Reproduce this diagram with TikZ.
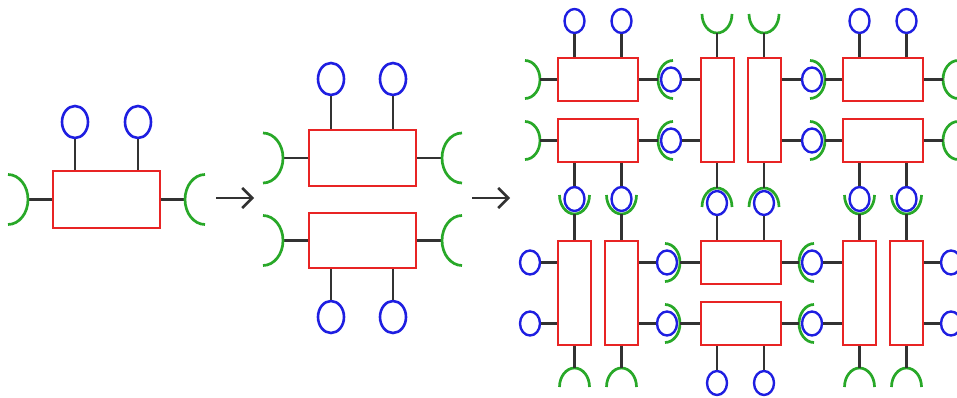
\documentclass[tikz,border=0pt]{standalone}
\usetikzlibrary{shapes.geometric,arrows.meta}
\definecolor{myred}{RGB}{232,36,36}
\definecolor{myblue}{RGB}{30,30,225}
\definecolor{mygreen}{RGB}{40,168,40}
\definecolor{mystem}{RGB}{50,50,50}
\tikzset{
  rbox/.style={draw=myred, line width=2pt, rectangle, inner sep=0pt},
  hr/.style={minimum width=80pt, minimum height=43pt},
  vr/.style={minimum width=33pt, minimum height=104pt},
  bball/.style={draw=myblue, line width=2.6pt, ellipse, inner sep=0pt, minimum width=26pt, minimum height=32pt},
  sball/.style={draw=myblue, line width=2.4pt, ellipse, inner sep=0pt, minimum width=20pt, minimum height=24pt},
  stem/.style={draw=mystem, line width=2.2pt},
  garc/.style={draw=mygreen, line width=2.7pt},
  flow/.style={draw=mystem, line width=2.5pt, -{Straight Barb[length=10pt,width=20pt]}},
}
% green sockets: vertex, x radius, y radius
\newcommand\gOpenL[3]{\draw[garc] (#1) ++(-#2,-#3) arc[start angle=-90,end angle=90,x radius=#2,y radius=#3];}
\newcommand\gOpenR[3]{\draw[garc] (#1) ++(#2,#3) arc[start angle=90,end angle=270,x radius=#2,y radius=#3];}
\newcommand\gOpenU[3]{\draw[garc] (#1) ++(#2,-#3) arc[start angle=0,end angle=180,x radius=#2,y radius=#3];}
\newcommand\gOpenD[3]{\draw[garc] (#1) ++(-#2,#3) arc[start angle=180,end angle=360,x radius=#2,y radius=#3];}
\begin{document}
\begin{tikzpicture}[x=1pt,y=-1pt]
\clip (0,0) rectangle (957,398);
\fill[white] (0,0) rectangle (957,398);

% ---------------- single motif ----------------
\node[rbox, minimum width=107pt, minimum height=57pt] (L) at (106.5,199.5) {};
\node[bball] (L1) at (75,122) {};
\node[bball] (L2) at (138,122) {};
\draw[stem] (L1.south) -- (L1.south |- L.north);
\draw[stem] (L2.south) -- (L2.south |- L.north);
\coordinate (Lvl) at (28,199.5);
\coordinate (Lvr) at (185,199.5);
\draw[stem] (L.west) -- (Lvl);
\draw[stem] (L.east) -- (Lvr);
\gOpenL{Lvl}{20}{25}
\gOpenR{Lvr}{20}{25}

% arrows
\coordinate (a1s) at (216,198);
\coordinate (a1e) at (254,198);
\draw[flow] (a1s) -- (a1e);
\coordinate (a2s) at (472,198);
\coordinate (a2e) at (510,198);
\draw[flow] (a2s) -- (a2e);

% ---------------- pair ----------------
\node[rbox, minimum width=107pt, minimum height=56pt] (M1) at (362.5,158) {};
\node[rbox, minimum width=107pt, minimum height=55pt] (M2) at (362.5,240.5) {};
\node[bball] (M1a) at (331,79) {};
\node[bball] (M1b) at (393,79) {};
\node[bball] (M2a) at (331,317) {};
\node[bball] (M2b) at (393,317) {};
\draw[stem] (M1a.south) -- (M1a.south |- M1.north);
\draw[stem] (M1b.south) -- (M1b.south |- M1.north);
\draw[stem] (M2a.north) -- (M2a.north |- M2.south);
\draw[stem] (M2b.north) -- (M2b.north |- M2.south);
\coordinate (M1l) at (283,158);
\coordinate (M1r) at (442,158);
\coordinate (M2l) at (283,240.5);
\coordinate (M2r) at (442,240.5);
\draw[stem] (M1.west) -- (M1l);
\draw[stem] (M1.east) -- (M1r);
\draw[stem] (M2.west) -- (M2l);
\draw[stem] (M2.east) -- (M2r);
\gOpenL{M1l}{20}{25}
\gOpenR{M1r}{20}{25}
\gOpenL{M2l}{20}{25}
\gOpenR{M2r}{20}{25}

% ---------------- grid ----------------
\node[rbox,hr] (A1) at (598,79.5) {};
\node[rbox,hr] (A2) at (598,140.5) {};
\node[rbox,vr] (B1) at (717,110) {};
\node[rbox,vr] (B2) at (764,110) {};
\node[rbox,hr] (C1) at (883,79.5) {};
\node[rbox,hr] (C2) at (883,140.5) {};
\node[rbox,vr] (D1) at (574.5,293) {};
\node[rbox,vr] (D2) at (621.5,293) {};
\node[rbox,hr] (E1) at (740.5,262.5) {};
\node[rbox,hr] (E2) at (740.5,323.5) {};
\node[rbox,vr] (F1) at (859.5,293) {};
\node[rbox,vr] (F2) at (906.5,293) {};

% socket vertices
\coordinate (A1l) at (540,79.5);  \coordinate (A2l) at (540,140.5);
\coordinate (A1r) at (658,79.5);  \coordinate (A2r) at (658,140.5);
\coordinate (B1t) at (717,33);    \coordinate (B2t) at (764,33);
\coordinate (B1b) at (717,188);   \coordinate (B2b) at (764,188);
\coordinate (C1l) at (825,79.5);  \coordinate (C2l) at (825,140.5);
\coordinate (C1r) at (943,79.5);  \coordinate (C2r) at (943,140.5);
\coordinate (D1t) at (574.5,214); \coordinate (D2t) at (621.5,214);
\coordinate (D1b) at (574.5,368); \coordinate (D2b) at (621.5,368);
\coordinate (E1l) at (680,262.5); \coordinate (E2l) at (680,323.5);
\coordinate (E1r) at (799,262.5); \coordinate (E2r) at (799,323.5);
\coordinate (F1t) at (859.5,214); \coordinate (F2t) at (906.5,214);
\coordinate (F1b) at (859.5,368); \coordinate (F2b) at (906.5,368);

\gOpenL{A1l}{15}{19} \gOpenL{A2l}{15}{19}
\gOpenR{A1r}{15}{19} \gOpenR{A2r}{15}{19}
\gOpenU{B1t}{15}{19} \gOpenU{B2t}{15}{19}
\gOpenD{B1b}{15}{19} \gOpenD{B2b}{15}{19}
\gOpenL{C1l}{15}{19} \gOpenL{C2l}{15}{19}
\gOpenR{C1r}{15}{19} \gOpenR{C2r}{15}{19}
\gOpenU{D1t}{15}{19} \gOpenU{D2t}{15}{19}
\gOpenD{D1b}{15}{19} \gOpenD{D2b}{15}{19}
\gOpenL{E1l}{15}{19} \gOpenL{E2l}{15}{19}
\gOpenR{E1r}{15}{19} \gOpenR{E2r}{15}{19}
\gOpenU{F1t}{15}{19} \gOpenU{F2t}{15}{19}
\gOpenD{F1b}{15}{19} \gOpenD{F2b}{15}{19}

\draw[stem] (A1.west) -- (A1l);  \draw[stem] (A2.west) -- (A2l);
\draw[stem] (A1.east) -- (A1r);  \draw[stem] (A2.east) -- (A2r);
\draw[stem] (B1t) -- (B1t |- B1.north); \draw[stem] (B2t) -- (B2t |- B2.north);
\draw[stem] (B1b) -- (B1b |- B1.south); \draw[stem] (B2b) -- (B2b |- B2.south);
\draw[stem] (C1.west) -- (C1l);  \draw[stem] (C2.west) -- (C2l);
\draw[stem] (C1.east) -- (C1r);  \draw[stem] (C2.east) -- (C2r);
\draw[stem] (D1t) -- (D1t |- D1.north); \draw[stem] (D2t) -- (D2t |- D2.north);
\draw[stem] (D1b) -- (D1b |- D1.south); \draw[stem] (D2b) -- (D2b |- D2.south);
\draw[stem] (E1.west) -- (E1l);  \draw[stem] (E2.west) -- (E2l);
\draw[stem] (E1.east) -- (E1r);  \draw[stem] (E2.east) -- (E2r);
\draw[stem] (F1t) -- (F1t |- F1.north); \draw[stem] (F2t) -- (F2t |- F2.north);
\draw[stem] (F1b) -- (F1b |- F1.south); \draw[stem] (F2b) -- (F2b |- F2.south);

% balls
\node[sball] (A1a) at (574.5,21) {};  \node[sball] (A1b) at (621.5,21) {};
\node[sball] (A2a) at (574.5,199) {}; \node[sball] (A2b) at (621.5,199) {};
\node[sball] (B1a) at (671,79.5) {};  \node[sball] (B1c) at (671,140.5) {};
\node[sball] (B2a) at (812,79.5) {};  \node[sball] (B2c) at (812,140.5) {};
\node[sball] (C1a) at (859.5,21) {};  \node[sball] (C1b) at (906.5,21) {};
\node[sball] (C2a) at (859.5,199) {}; \node[sball] (C2b) at (906.5,199) {};
\node[sball] (D1a) at (530,262.5) {}; \node[sball] (D1c) at (530,323.5) {};
\node[sball] (D2a) at (667,262.5) {}; \node[sball] (D2c) at (667,323.5) {};
\node[sball] (E1a) at (717,203) {};   \node[sball] (E1b) at (764,203) {};
\node[sball] (E2a) at (717,383) {};   \node[sball] (E2b) at (764,383) {};
\node[sball] (F1a) at (812,262.5) {}; \node[sball] (F1c) at (812,323.5) {};
\node[sball] (F2a) at (951,262.5) {}; \node[sball] (F2c) at (951,323.5) {};

\draw[stem] (A1a.south) -- (A1a.south |- A1.north); \draw[stem] (A1b.south) -- (A1b.south |- A1.north);
\draw[stem] (A2a.north) -- (A2a.north |- A2.south); \draw[stem] (A2b.north) -- (A2b.north |- A2.south);
\draw[stem] (B1a.east) -- (B1a.east -| B1.west);    \draw[stem] (B1c.east) -- (B1c.east -| B1.west);
\draw[stem] (B2a.west) -- (B2a.west -| B2.east);    \draw[stem] (B2c.west) -- (B2c.west -| B2.east);
\draw[stem] (C1a.south) -- (C1a.south |- C1.north); \draw[stem] (C1b.south) -- (C1b.south |- C1.north);
\draw[stem] (C2a.north) -- (C2a.north |- C2.south); \draw[stem] (C2b.north) -- (C2b.north |- C2.south);
\draw[stem] (D1a.east) -- (D1a.east -| D1.west);    \draw[stem] (D1c.east) -- (D1c.east -| D1.west);
\draw[stem] (D2a.west) -- (D2a.west -| D2.east);    \draw[stem] (D2c.west) -- (D2c.west -| D2.east);
\draw[stem] (E1a.south) -- (E1a.south |- E1.north); \draw[stem] (E1b.south) -- (E1b.south |- E1.north);
\draw[stem] (E2a.north) -- (E2a.north |- E2.south); \draw[stem] (E2b.north) -- (E2b.north |- E2.south);
\draw[stem] (F1a.east) -- (F1a.east -| F1.west);    \draw[stem] (F1c.east) -- (F1c.east -| F1.west);
\draw[stem] (F2a.west) -- (F2a.west -| F2.east);    \draw[stem] (F2c.west) -- (F2c.west -| F2.east);
\end{tikzpicture}
\end{document}
